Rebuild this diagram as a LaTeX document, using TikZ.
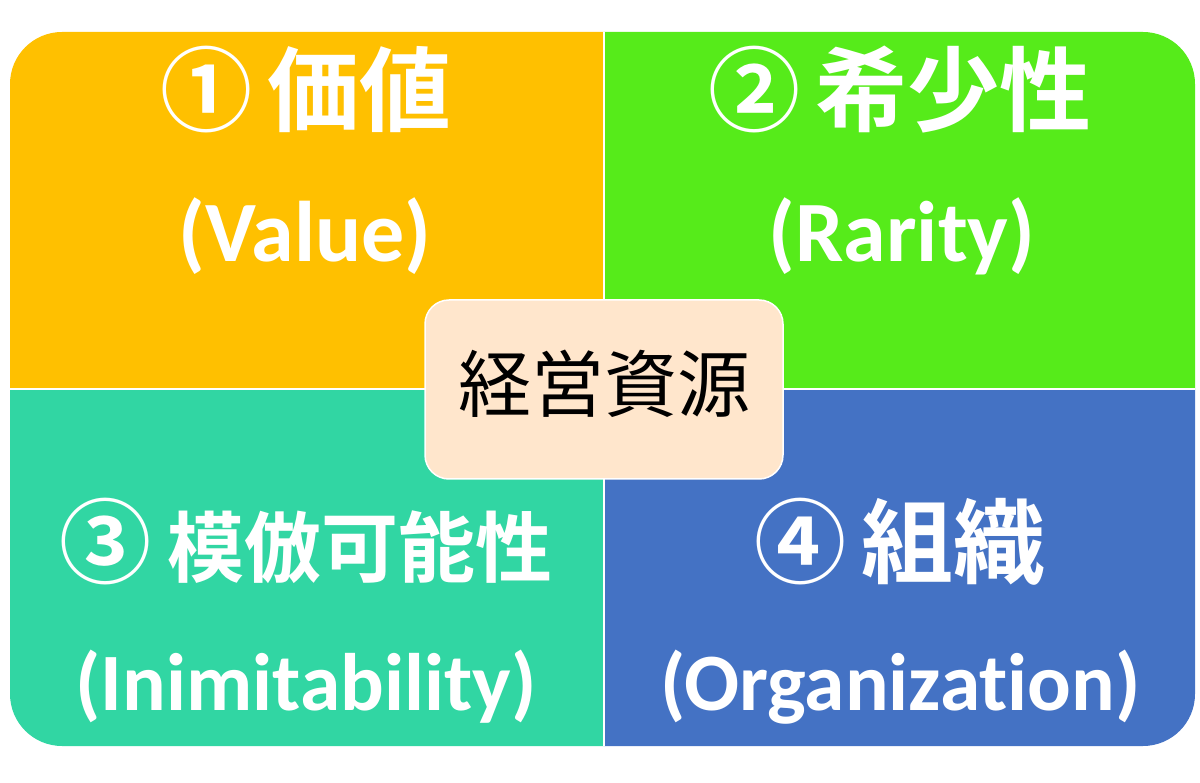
\documentclass[tikz,border=0pt]{standalone}
\usepackage{fontspec}
\setmainfont{Carlito}[Ligatures=NoCommon]
\newfontfamily\jpb{Noto Sans CJK JP Bold}
\newfontfamily\jpr{Noto Sans CJK JP}
\definecolor{cOrange}{HTML}{FFC000}
\definecolor{cGreen}{HTML}{56EB1A}
\definecolor{cTeal}{HTML}{31D6A3}
\definecolor{cBlue}{HTML}{4472C4}
\definecolor{cPeach}{HTML}{FFE6CC}
\tikzset{
  jptitle/.style={anchor=base, text=white, inner sep=0pt, font=\jpb\fontsize{92}{110}\selectfont},
  entitle/.style={anchor=base, text=white, inner sep=0pt, font=\bfseries\fontsize{86}{100}\selectfont},
  entitlesmall/.style={entitle, font=\bfseries\fontsize{81.5}{100}\selectfont},
  corebox/.style={draw=white, line width=1.5pt, fill=cPeach, rounded corners=24pt, minimum width=358pt, minimum height=179pt, inner sep=0pt},
  coretext/.style={anchor=base, text=black, inner sep=0pt, font=\jpr\fontsize{73}{90}\selectfont},
  divider/.style={draw=white, line width=2pt}
}
\begin{document}
\begin{tikzpicture}[x=1pt,y=-1pt]
\useasboundingbox (0,0) rectangle (1200,783);
\begin{scope}
  \clip[rounded corners=52pt] (10,32) rectangle (1195,746);
  \fill[cOrange] (0,0) rectangle (604,389);
  \fill[cGreen] (604,0) rectangle (1200,389);
  \fill[cTeal] (0,389) rectangle (604,783);
  \fill[cBlue] (604,389) rectangle (1200,783);
\end{scope}
\coordinate (vtop) at (604,32);
\coordinate (vbot) at (604,746);
\coordinate (hleft) at (10,389);
\coordinate (hright) at (1195,389);
\draw[divider] (vtop) -- (vbot);
\draw[divider] (hleft) -- (hright);

\node[jptitle] (v1) at (306,124.5) {①\hspace{16pt}価値};
\node[entitle] (v2) at (305,262) {(Value)};
\node[jptitle] (r1) at (900,124.5) {②\hspace{16pt}希少性};
\node[entitle] (r2) at (902,262) {(Rarity)};
\node[jptitle] (i1) at (306,576) {③\hspace{16pt}{\fontsize{77}{90}\selectfont 模倣可能性}};
\node[entitlesmall] (i2) at (306,710) {(Inimitability)};
\node[jptitle] (o1) at (900,576) {④\hspace{16pt}組織};
\node[entitlesmall] (o2) at (900.5,710) {(Organization)};

\node[corebox] (core) at (604,389.5) {};
\node[coretext] (coretxt) at (604,412) {経営資源};
\end{tikzpicture}
\end{document}
